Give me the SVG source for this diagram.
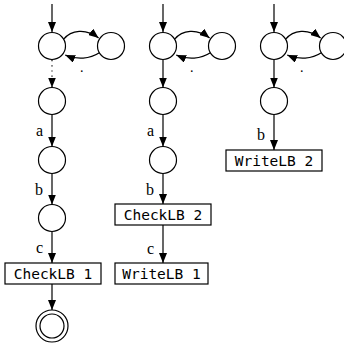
<svg xmlns="http://www.w3.org/2000/svg" width="344" height="347" viewBox="0 0 344 347">
<defs>
<marker id="ah" markerUnits="userSpaceOnUse" markerWidth="10" markerHeight="8" refX="10" refY="4" orient="auto">
<path d="M0,0 L10,4 L0,8 z" fill="#000"/>
</marker>
<style>
.st{fill:#fff;stroke:#000;stroke-width:1.2}
.bx{fill:#fff;stroke:#000;stroke-width:1.2}
.e{fill:none;stroke:#000;stroke-width:1.2;marker-end:url(#ah)}
.dot{stroke-dasharray:1.2 4}
.lb{font-family:"Liberation Serif",serif;font-size:16px;fill:#000;text-anchor:end}
.bt{font-family:"DejaVu Sans Mono",monospace;font-size:14.5px;fill:#000;text-anchor:middle}
.pd{font-family:"Liberation Serif",serif;font-size:14px;fill:#000}
</style>
</defs>
<rect width="344" height="347" fill="#fff"/>
<g id="connectors">
<!-- column 1 -->
<path class="e" d="M52,4 L52,32"/>
<path class="e" d="M63.7,39.2 C71,30 86,28 98.6,38"/>
<path class="e" d="M99.3,52.8 C90,59 77,60 65.2,55"/>
<path class="e dot" d="M52,60 L52,87.5"/>
<path class="e" d="M52,114.5 L52,146.5"/>
<path class="e" d="M52,173.5 L52,204.5"/>
<path class="e" d="M52,231.5 L52,263"/>
<path class="e" d="M52,284 L52,310"/>
<!-- column 2 -->
<path class="e" d="M163,4 L163,32"/>
<path class="e" d="M174.7,39.2 C182,30 197,28 209.6,38"/>
<path class="e" d="M210.3,52.8 C201,59 188,60 176.2,55"/>
<path class="e" d="M163,59.5 L163,87.5"/>
<path class="e" d="M163,114.5 L163,146.5"/>
<path class="e" d="M163,173.5 L163,204"/>
<path class="e" d="M163,225 L163,263"/>
<!-- column 3 -->
<path class="e" d="M274,4 L274,32"/>
<path class="e" d="M285.7,39.2 C293,30 308,28 320.6,38"/>
<path class="e" d="M321.3,52.8 C312,59 299,60 287.2,55"/>
<path class="e" d="M274,59.5 L274,87.5"/>
<path class="e" d="M274,114.5 L274,150"/>
</g>
<g id="labels">
<text class="lb" x="43" y="136">a</text>
<text class="lb" x="43" y="195">b</text>
<text class="lb" x="43" y="253">c</text>
<text class="lb" x="154" y="136">a</text>
<text class="lb" x="154" y="195">b</text>
<text class="lb" x="154" y="254">c</text>
<text class="lb" x="265" y="140">b</text>
<text class="pd" x="80" y="72">.</text>
<text class="pd" x="190" y="72">.</text>
<text class="pd" x="300" y="72">.</text>
</g>
<g id="c1-s0"><circle class="st" cx="52" cy="46" r="13.5"/></g>
<g id="c1-loop"><circle class="st" cx="111" cy="46" r="13.5"/></g>
<g id="c1-s1"><circle class="st" cx="52" cy="101" r="13.5"/></g>
<g id="c1-s2"><circle class="st" cx="52" cy="160" r="13.5"/></g>
<g id="c1-s3"><circle class="st" cx="52" cy="218" r="13.5"/></g>
<g id="c1-check1"><rect class="bx" x="5" y="263" width="96" height="21"/><text class="bt" x="53" y="279">CheckLB 1</text></g>
<g id="c1-final"><circle class="st" cx="52" cy="326" r="16"/><circle class="st" cx="52" cy="326" r="12"/></g>
<g id="c2-s0"><circle class="st" cx="163" cy="46" r="13.5"/></g>
<g id="c2-loop"><circle class="st" cx="222" cy="46" r="13.5"/></g>
<g id="c2-s1"><circle class="st" cx="163" cy="101" r="13.5"/></g>
<g id="c2-s2"><circle class="st" cx="163" cy="160" r="13.5"/></g>
<g id="c2-check2"><rect class="bx" x="115" y="204" width="96" height="21"/><text class="bt" x="163" y="220">CheckLB 2</text></g>
<g id="c2-write1"><rect class="bx" x="115" y="263" width="93" height="21"/><text class="bt" x="161.5" y="279">WriteLB 1</text></g>
<g id="c3-s0"><circle class="st" cx="274" cy="46" r="13.5"/></g>
<g id="c3-loop"><circle class="st" cx="333" cy="46" r="13.5"/></g>
<g id="c3-s1"><circle class="st" cx="274" cy="101" r="13.5"/></g>
<g id="c3-write2"><rect class="bx" x="226" y="150" width="96" height="21"/><text class="bt" x="274" y="166">WriteLB 2</text></g>
</svg>
